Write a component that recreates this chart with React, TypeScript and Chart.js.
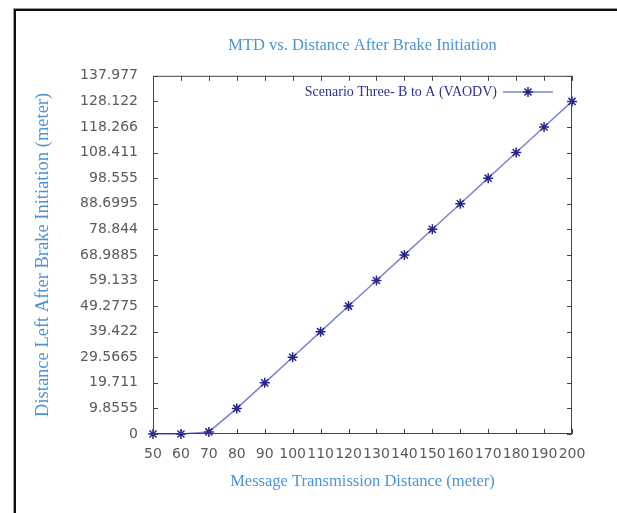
import React, { useEffect, useRef } from "react";
import { Chart, registerables } from "chart.js";

Chart.register(...registerables);

const xValues = [50, 60, 70, 80, 90, 100, 110, 120, 130, 140, 150, 160, 170, 180, 190, 200];
const yValues = [0, 0, 0.8, 9.8555, 19.711, 29.5665, 39.422, 49.2775, 59.133, 68.9885, 78.844, 88.6995, 98.555, 108.411, 118.266, 128.122];
const yTickValues = [0, 9.8555, 19.711, 29.5665, 39.422, 49.2775, 59.133, 68.9885, 78.844, 88.6995, 98.555, 108.411, 118.266, 128.122, 137.977];
const yTickLabels = ["0", "9.8555", "19.711", "29.5665", "39.422", "49.2775", "59.133", "68.9885", "78.844", "88.6995", "98.555", "108.411", "118.266", "128.122", "137.977"];
const seriesLabel = "Scenario Three- B to A (VAODV)";
const chartTitle = "MTD vs. Distance After Brake Initiation";
const xTitle = "Message Transmission Distance (meter)";
const yTitle = "Distance Left After Brake Initiation (meter)";

const LINE = "#8080dc";
const MARK = "#24248c";
const BLUE = "#4a94d6";
const SERIF = "'Liberation Serif', 'DejaVu Serif', serif";

const framePlugin = {
  id: "frame",
  beforeDraw(chart: any) {
    const ctx = chart.ctx;
    ctx.save();
    ctx.fillStyle = "#ffffff";
    ctx.fillRect(0, 0, chart.width, chart.height);
    ctx.fillStyle = "#9a9a9a";
    ctx.fillRect(13, 8, 1, chart.height - 8);
    ctx.fillRect(13, 8, chart.width - 13, 1);
    ctx.fillStyle = "#111111";
    ctx.fillRect(14, 9, 2, chart.height - 9);
    ctx.fillRect(14, 9, chart.width - 14, 2);
    ctx.restore();
  },
  afterDraw(chart: any) {
    const ctx = chart.ctx;
    const { left, right, top, bottom } = chart.chartArea;
    const xs = chart.scales.x;
    const ys = chart.scales.y;
    ctx.save();
    ctx.strokeStyle = "#444444";
    ctx.lineWidth = 1;
    ctx.beginPath();
    ctx.rect(left + 0.5, top + 0.5, right - left - 1, bottom - top - 1);
    ctx.stroke();
    const tl = 5;
    ctx.beginPath();
    xs.ticks.forEach((t: any) => {
      const px = Math.round(xs.getPixelForValue(t.value)) + 0.5;
      ctx.moveTo(px, bottom);
      ctx.lineTo(px, bottom - tl);
      ctx.moveTo(px, top);
      ctx.lineTo(px, top + tl);
    });
    ys.ticks.forEach((t: any) => {
      const py = Math.round(ys.getPixelForValue(t.value)) + 0.5;
      ctx.moveTo(left, py);
      ctx.lineTo(left + tl, py);
      ctx.moveTo(right, py);
      ctx.lineTo(right - tl, py);
    });
    ctx.stroke();

    // legend
    const ly = 92;
    ctx.font = `14px ${SERIF}`;
    ctx.fillStyle = "#2e2e96";
    ctx.textAlign = "right";
    ctx.textBaseline = "middle";
    ctx.fillText(seriesLabel, 497, ly);
    ctx.strokeStyle = LINE;
    ctx.lineWidth = 1.5;
    ctx.beginPath();
    ctx.moveTo(503, ly);
    ctx.lineTo(553, ly);
    ctx.stroke();
    ctx.strokeStyle = MARK;
    ctx.lineWidth = 1.5;
    ctx.beginPath();
    const r = 5;
    const cx = 528;
    ctx.moveTo(cx - r, ly);
    ctx.lineTo(cx + r, ly);
    ctx.moveTo(cx, ly - r);
    ctx.lineTo(cx, ly + r);
    const d = r * 0.7071;
    ctx.moveTo(cx - d, ly - d);
    ctx.lineTo(cx + d, ly + d);
    ctx.moveTo(cx - d, ly + d);
    ctx.lineTo(cx + d, ly - d);
    ctx.stroke();
    ctx.restore();
  },
};

export default function App() {
  const ref = useRef<HTMLCanvasElement | null>(null);
  useEffect(() => {
    if (!ref.current) return;
    const chart = new Chart(ref.current, {
      type: "line",
      data: {
        datasets: [
          {
            label: seriesLabel,
            data: xValues.map((x, i) => ({ x, y: yValues[i] })),
            borderColor: LINE,
            borderWidth: 1.5,
            pointStyle: "star",
            pointRadius: 5,
            pointBorderColor: MARK,
            pointBackgroundColor: MARK,
            pointBorderWidth: 1.5,
            tension: 0,
            fill: false,
            clip: false,
          },
        ],
      },
      options: {
        responsive: false,
        animation: false,
        layout: { padding: { left: 0, right: 45, top: 0, bottom: 0 } },
        plugins: {
          legend: { display: false },
          tooltip: { enabled: false },
          title: {
            display: true,
            text: chartTitle,
            fullSize: false,
            color: BLUE,
            font: { family: SERIF, size: 16.5, weight: "normal" },
            padding: { top: 36, bottom: 20 },
          },
        },
        scales: {
          x: {
            type: "linear",
            min: 50,
            max: 200,
            grid: { display: false, drawTicks: false },
            border: { display: false },
            ticks: {
              stepSize: 10,
              padding: 12,
              color: "#5a5a5a",
              font: { family: "'DejaVu Sans'", size: 14 },
              maxRotation: 0,
              autoSkip: false,
            },
            title: {
              display: true,
              text: xTitle,
              color: BLUE,
              font: { family: SERIF, size: 16.5 },
              padding: { top: 0, bottom: 21 },
            },
            afterFit(scale: any) {
              scale.height = 79;
            },
          },
          y: {
            type: "linear",
            min: 0,
            max: 137.977,
            grid: { display: false, drawTicks: false },
            border: { display: false },
            afterBuildTicks(scale: any) {
              scale.ticks = yTickValues.map((v) => ({ value: v }));
            },
            ticks: {
              padding: 15,
              color: "#5a5a5a",
              font: { family: "'DejaVu Sans'", size: 14 },
              autoSkip: false,
              callback: (_v: any, i: number) => yTickLabels[i],
            },
            title: {
              display: true,
              text: yTitle,
              color: BLUE,
              font: { family: SERIF, size: 18.5 },
              padding: { top: 32, bottom: 0 },
            },
            afterFit(scale: any) {
              scale.width = 153;
            },
          },
        },
      },
      plugins: [framePlugin],
    } as any);
    return () => chart.destroy();
  }, []);
  return (
    <div style={{ position: "absolute", left: 0, top: 0, width: 617, height: 513 }}>
      <canvas ref={ref} width={617} height={513} style={{ display: "block" }} />
    </div>
  );
}
